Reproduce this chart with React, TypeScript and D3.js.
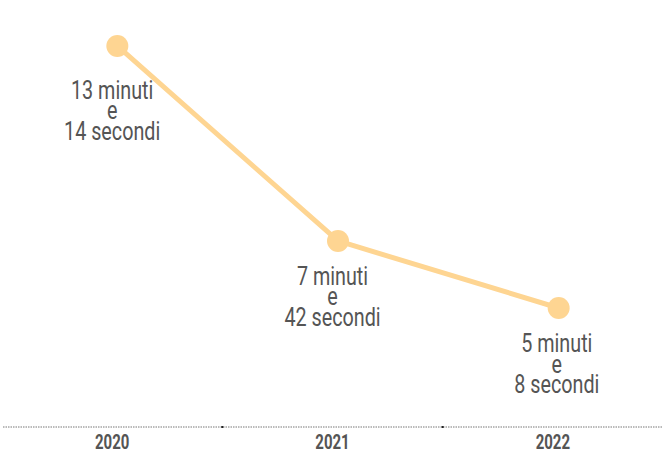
import React from "react";
import * as d3 from "d3";

const years = ["2020", "2021", "2022"];
const minutesPlotted = [15.17, 7.7, 5.13];
const labelLines = [
  ["13 minuti", "e", "14 secondi"],
  ["7 minuti", "e", "42 secondi"],
  ["5 minuti", "e", "8 secondi"],
];
const labelDy = [53, 44, 44];
const labelDx = [0, 0, 4];

const W = 666;
const H = 452;
const FONT = "Roboto, 'Noto Sans', sans-serif";
const LINE_COLOR = "#fed592";
const TEXT_COLOR = "#555555";
const SQUEEZE = 0.76;

export default function App() {
  const xAxis = d3.scaleBand<string>().domain(years).range([2, 663]);
  const xPts = d3.scaleBand<string>().domain(years).range([7, 669]);
  const y = d3.scaleLinear().domain([0, 16]).range([441.9, 24.3]);
  const px = (i: number) => (xPts(years[i]) as number) + xPts.bandwidth() / 2;
  const ax = (i: number) => (xAxis(years[i]) as number) + xAxis.bandwidth() / 2;

  const line = d3
    .line<number>()
    .x((_, i) => px(i))
    .y((d) => y(d));

  const axisY = 427;

  return (
    <svg
      width={W}
      height={H}
      style={{ position: "absolute", left: 0, top: 0, display: "block", background: "#fff" }}
    >
      <line
        x1={3}
        x2={663}
        y1={axisY}
        y2={axisY}
        stroke="#777"
        strokeWidth={1}
        strokeDasharray="1.5,1"
      />
      {years.slice(0, -1).map((yr) => {
        const xe = (xAxis(yr) as number) + xAxis.bandwidth();
        return <line key={"t" + yr} x1={xe} x2={xe} y1={axisY - 1} y2={axisY + 1} stroke="#222" strokeWidth={2} />;
      })}
      {years.map((yr, i) => (
        <g key={yr} transform={`translate(${ax(i)},449) scale(0.75,1)`}>
          <text
            x={0}
            y={0}
            textAnchor="middle"
            fontFamily={FONT}
            fontWeight="bold"
            fontSize={20}
            fill={TEXT_COLOR}
          >
            {yr}
          </text>
        </g>
      ))}
      <path
        d={line(minutesPlotted) || ""}
        fill="none"
        stroke={LINE_COLOR}
        strokeWidth={5}
        strokeLinejoin="round"
        strokeLinecap="round"
      />
      {minutesPlotted.map((v, i) => (
        <circle key={"c" + i} cx={px(i)} cy={y(v)} r={11} fill={LINE_COLOR} />
      ))}
      {labelLines.map((lines, i) => (
        <g
          key={"l" + i}
          transform={`translate(${ax(i) + labelDx[i]},${y(minutesPlotted[i]) + labelDy[i]}) scale(${SQUEEZE},1)`}
        >
          <text textAnchor="middle" fontFamily={FONT} fontWeight={400} fontSize={26} fill={TEXT_COLOR}>
            {lines.map((t, j) => (
              <tspan key={j} x={0} y={j * 20.5}>
                {t}
              </tspan>
            ))}
          </text>
        </g>
      ))}
    </svg>
  );
}
